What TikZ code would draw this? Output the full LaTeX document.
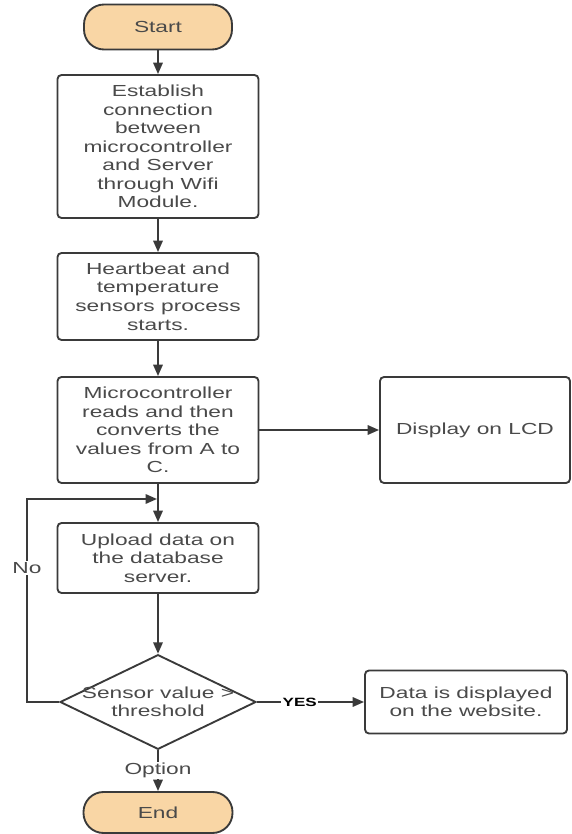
\documentclass[tikz,border=0pt]{standalone}
\usepackage{fontspec}
\setmainfont{Liberation Sans}[FakeStretch=1.42]
\usepackage[HTML]{xcolor}
\usetikzlibrary{positioning, arrows.meta, shapes.geometric}
\definecolor{edgegray}{HTML}{3A3A3A}
\definecolor{textgray}{HTML}{4A4A4A}
\definecolor{termfill}{HTML}{F9D6A5}

\begin{document}
\begin{tikzpicture}[x=0.75pt,y=-0.75pt,
  every node/.style={font=\fontsize{12}{13.9}\selectfont, text=textgray},
  process/.style={draw=edgegray, line width=1.4pt, rounded corners=3pt, fill=white, align=center, minimum width=150.75pt, inner sep=0pt},
  terminal/.style={draw=edgegray, line width=1.4pt, fill=termfill, rounded corners=15pt, minimum width=111pt},
  decision/.style={diamond, draw=edgegray, line width=1.4pt, fill=white, minimum width=147pt, minimum height=71pt, inner sep=0pt},
  flow/.style={draw=edgegray, line width=1.5pt, -{Triangle[length=8.5pt,width=7pt]}},
  tag/.style={fill=white, inner sep=1pt}]
\useasboundingbox (0,0) rectangle (571,834);
% boxes
\node[terminal, minimum height=33.75pt] (start) at (158,27) {Start};
\node[process, minimum height=107.25pt] (connect) at (158,146.5) {Establish\\connection\\between\\microcontroller\\and Server\\through Wifi\\Module.};
\node[process, minimum height=65.25pt] (sensors) at (158,296.5) {Heartbeat and\\temperature\\sensors process\\starts.};
\node[process, minimum height=79.5pt] (convert) at (158,430) {Microcontroller\\reads and then\\converts the\\values from A to\\C.};
\node[process, minimum width=142.5pt, minimum height=79.5pt] (lcd) at (475,430) {Display on LCD};
\node[process, minimum height=52.5pt] (upload) at (158,558) {Upload data on\\the database\\server.};
\node[decision] (check) at (158,702) {};
\node[align=center] (checktext) at (check) {Sensor value >\\threshold};
\node[process, minimum width=151.5pt, minimum height=47.25pt] (web) at (466,702) {Data is displayed\\on the website.};
\node[terminal, minimum width=111.75pt, minimum height=30.75pt] (finish) at (158,812.5) {End};
% connectors
\draw[flow] (start) -- (connect);
\draw[flow] (connect) -- (sensors);
\draw[flow] (sensors) -- (convert);
\draw[flow] (convert) -- (lcd);
\draw[flow] (convert) -- (upload);
\draw[flow] (upload) -- (check);
\draw[flow] (check.east) -- node[tag, pos=0.4, text=black, font=\bfseries\fontsize{9}{10}\selectfont] {YES} (web);
\draw[flow] (check.south) -- node[tag] {Option} (finish);
\coordinate (loopleft) at (27,702);
\coordinate (loopup) at (27,499);
\coordinate (loopin) at (157,499);
\draw[flow] (check.west) -- (loopleft) -- node[tag, pos=0.66] {No} (loopup) -- (loopin);
\end{tikzpicture}
\end{document}
